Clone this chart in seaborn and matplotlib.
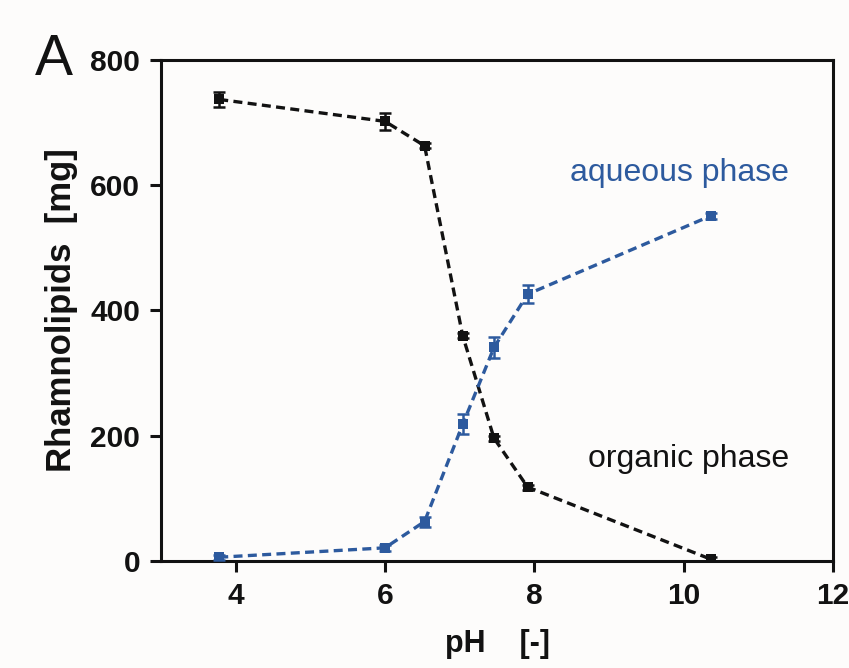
import numpy as np
import pandas as pd
import matplotlib
matplotlib.use("Agg")
import matplotlib.pyplot as plt
import seaborn as sns

# ---- data ----
ph = [3.78, 6.0, 6.53, 7.04, 7.46, 7.91, 10.36]
organic = [737, 702, 663, 360, 196, 118, 3]
organic_err = [12, 13, 4, 4, 4, 4, 3]
aqueous = [6, 21, 63, 218, 341, 426, 551]
aqueous_err = [4, 5, 8, 16, 17, 14, 5]

x_ticks = [4, 6, 8, 10, 12]
y_ticks = [0, 200, 400, 600, 800]

BLACK = "#121212"
BLUE = "#2d5a9e"

sns.set_style("ticks")
plt.rcParams["font.family"] = ["Liberation Sans", "DejaVu Sans"]

df = pd.DataFrame({
    "pH": ph * 2,
    "mg": organic + aqueous,
    "phase": ["organic"] * len(ph) + ["aqueous"] * len(ph),
})

fig = plt.figure(figsize=(8.49, 6.68), dpi=100, facecolor="#fdfcfb")
ax = fig.add_axes([0.1896, 0.1602, 0.7916, 0.7500])
ax.set_facecolor("#fdfcfb")

sns.lineplot(data=df, x="pH", y="mg", hue="phase", style="phase",
             palette={"organic": BLACK, "aqueous": BLUE},
             dashes={"organic": (2.7, 1.6), "aqueous": (2.7, 1.6)},
             markers={"organic": "s", "aqueous": "s"},
             markersize=7.6, markeredgewidth=0, linewidth=2.4,
             legend=False, ax=ax, errorbar=None)

ax.errorbar(ph, organic, yerr=organic_err, fmt="none", ecolor=BLACK,
            elinewidth=1.8, capsize=4.5, capthick=1.8, zorder=3)
ax.errorbar(ph, aqueous, yerr=aqueous_err, fmt="none", ecolor=BLUE,
            elinewidth=1.8, capsize=4.5, capthick=1.8, zorder=3)

ax.set_xlim(3, 12)
ax.set_ylim(0, 800)
ax.set_xticks(x_ticks)
ax.set_yticks(y_ticks)
ax.set_xticklabels([str(t) for t in x_ticks], fontsize=21.5, fontweight="bold")
ax.set_yticklabels([str(t) for t in y_ticks], fontsize=21.5, fontweight="bold")
ax.tick_params(axis="both", direction="out", length=8, width=2.2, color=BLACK,
               labelcolor=BLACK, pad=7)
for s in ax.spines.values():
    s.set_visible(True)
    s.set_linewidth(2.2)
    s.set_color(BLACK)

ax.set_xlabel("pH    [-]", fontsize=22, fontweight="bold", color=BLACK, labelpad=14)
ax.set_ylabel("Rhamnolipids  [mg]", fontsize=25, fontweight="bold", color=BLACK, labelpad=9)

ax.text(11.41, 607, "aqueous phase", fontsize=23, color=BLUE, ha="right", va="baseline")
ax.text(11.41, 150, "organic phase", fontsize=23, color=BLACK, ha="right", va="baseline")

fig.text(0.041, 0.888, "A", fontsize=41, color=BLACK, ha="left", va="baseline")

fig.savefig("out.png", dpi=100, facecolor=fig.get_facecolor())
